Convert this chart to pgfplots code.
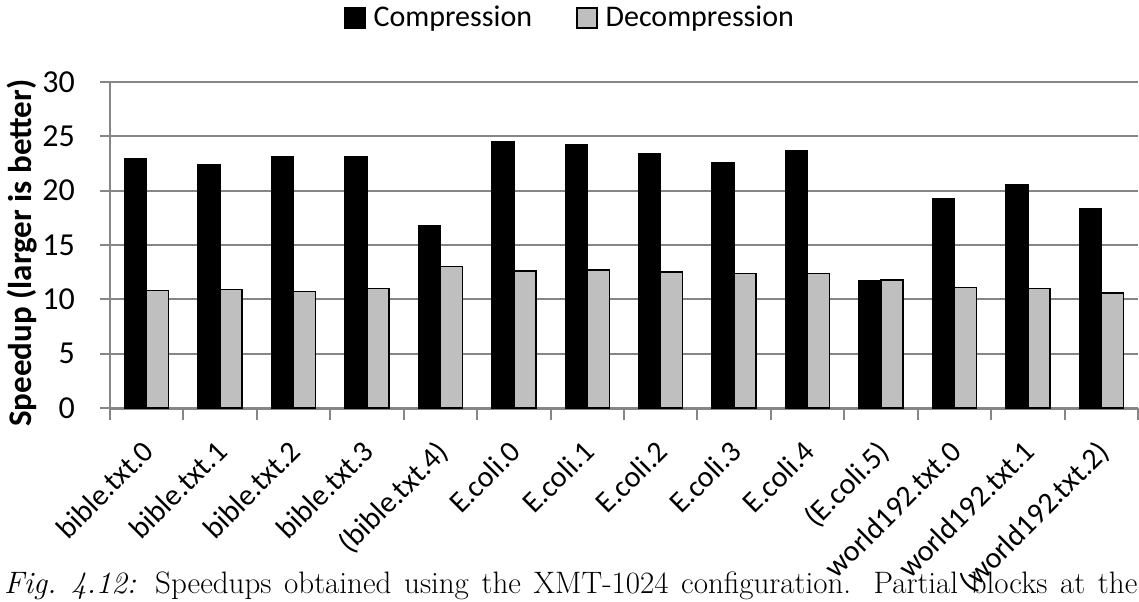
\documentclass[border=0pt]{standalone}
\usepackage{fontspec}
\usepackage{pgfplots}
\pgfplotsset{compat=1.18}
\newfontfamily\carlito{Carlito}
\definecolor{gridgray}{RGB}{134,134,134}
\definecolor{bargray}{RGB}{191,191,191}
\begin{document}
\begin{tikzpicture}[x=1pt,y=1pt]
\useasboundingbox (0,0) rectangle (569.5,300.5);
\node[anchor=base west, inner sep=0] at (1.8,4) {\makebox[566.7pt][s]{\fontsize{15.5}{18}\selectfont\textit{Fig.\ 4.12:} Speedups obtained using the XMT-1024 configuration. Partial blocks at the}};
\begin{axis}[
  at={(55pt,96.5pt)}, anchor=south west, scale only axis,
  width=514pt, height=163pt,
  ybar=0pt, bar width=11pt,
  xmin=-0.5, xmax=13.5, ymin=0, ymax=30,
  ytick={0,5,...,30},
  xtick={0,...,13},
  xticklabels={bible.txt.0,bible.txt.1,bible.txt.2,bible.txt.3,(bible.txt.4),E.coli.0,E.coli.1,E.coli.2,E.coli.3,E.coli.4,(E.coli.5),world192.txt.0,world192.txt.1,(world192.txt.2)},
  minor xtick={-0.5,0.5,...,13.5},
  tick align=outside,
  major tick length=5pt, minor tick length=6pt,
  major x tick style={draw=none},
  minor x tick style={draw=gridgray, line width=1pt},
  major y tick style={draw=gridgray, line width=1pt},
  ymajorgrids, grid style={draw=gridgray, line width=1pt},
  axis x line*=bottom, axis y line*=left,
  x axis line style={-, draw=gridgray, line width=1.5pt},
  y axis line style={-, draw=gridgray, line width=1pt},
  x tick label style={xshift=-3pt, yshift=-10pt, rotate=45, anchor=north east, font=\carlito\fontsize{15}{15}\selectfont, inner sep=0pt},
  y tick label style={font=\carlito\fontsize{16}{16}\selectfont, xshift=-9pt},
  /pgf/number format/assume math mode=true,
  ylabel={\bfseries Speedup (larger is better)},
  ylabel style={at={(axis description cs:-0.0856,0.475)}, anchor=center, font=\carlito\fontsize{16.5}{16.5}\selectfont},
  legend style={at={(axis description cs:0.4475,1.196)}, anchor=center, legend columns=2, draw=none, font=\carlito\fontsize{15}{15}\selectfont, /tikz/every even column/.append style={column sep=21pt}, /tikz/every odd column/.append style={column sep=3pt}, legend cell align=left, nodes={inner xsep=1pt}},
  legend image code/.code={\draw[#1, line width=0.75pt] (0pt,-5pt) rectangle (10pt,5pt);},
]
\addplot[fill=black, draw=black, line width=0.75pt] coordinates {
(0,22.9) (1,22.4) (2,23.1) (3,23.1) (4,16.8) (5,24.5) (6,24.2) (7,23.4) (8,22.6) (9,23.7) (10,11.7) (11,19.3) (12,20.5) (13,18.3)};
\addlegendentry{Compression}
\addplot[fill=bargray, draw=black, line width=0.75pt] coordinates {
(0,10.8) (1,10.9) (2,10.7) (3,11.0) (4,13.0) (5,12.6) (6,12.7) (7,12.5) (8,12.4) (9,12.4) (10,11.8) (11,11.1) (12,11.0) (13,10.6)};
\addlegendentry{Decompression}
\end{axis}
\end{tikzpicture}
\end{document}
